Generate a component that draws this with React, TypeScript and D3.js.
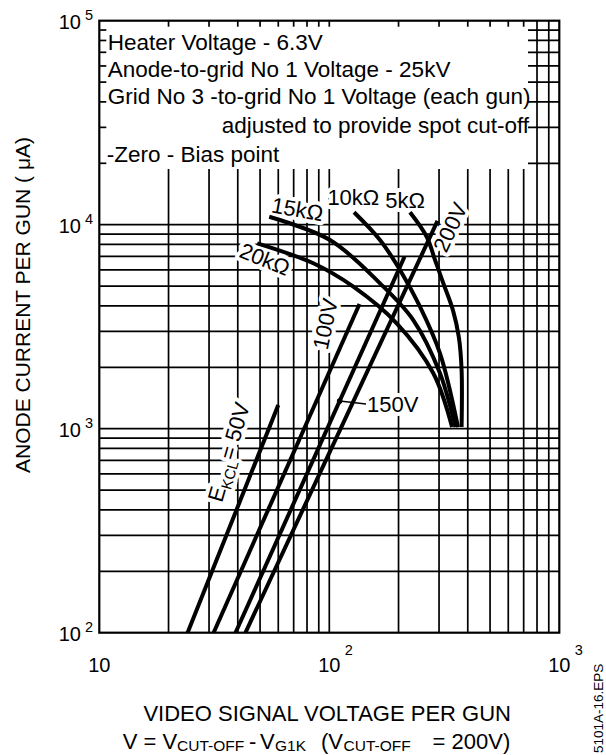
import React from 'react';
import * as d3 from 'd3';

const WIDTH = 606;
const HEIGHT = 755;

// Axis ticks
const xTickValues = [10, 100, 1000];
const xTickExponents = ['', '2', '3'];
const yTickValues = [100, 1000, 10000, 100000];
const yTickExponents = ['2', '3', '4', '5'];

// Log grid
const verticalGrid = [20, 30, 40, 50, 60, 70, 80, 90, 100, 200, 300, 400, 500, 600, 700, 800, 900];
const horizontalGrid = [200, 300, 400, 500, 600, 700, 800, 900, 1000, 2000, 3000, 4000, 5000, 6000, 7000, 8000, 9000, 10000, 20000, 30000, 40000, 50000, 60000, 70000, 80000, 90000];

// Constant E_KCL lines: [video voltage V, anode current µA]
const ekcl50: [number, number][] = [[24.2, 100], [60.0, 1306]];
const ekcl100: [number, number][] = [[31.4, 100], [135.3, 4085]];
const ekcl150: [number, number][] = [[39.1, 100], [212.3, 6968]];
const ekcl200: [number, number][] = [[43.2, 100], [295.4, 10430]];

// Load-resistance curves converging at zero-bias point
const load5k: [number, number][] = [[224.3, 11505], [265.1, 8730], [288.2, 6714], [313.2, 5160], [345, 3800], [366, 2800], [376, 1940], [376, 1019]];
const load10k: [number, number][] = [[128.1, 11505], [166.1, 8414], [203, 5998], [248, 3963], [302.9, 2342], [362.7, 1019]];
const load15k: [number, number][] = [[54.8, 10940], [100.7, 8414], [166.1, 5160], [231.8, 3410], [302.9, 1869], [353.9, 1019]];
const load20k: [number, number][] = [[48.6, 8104], [85.2, 6468], [127.2, 4967], [196.3, 3286], [283.3, 1869], [341.7, 1019]];

const boxLines = [
  'Heater Voltage - 6.3V',
  'Anode-to-grid No 1 Voltage - 25kV',
  'Grid No 3 -to-grid No 1 Voltage (each gun)',
  'adjusted to provide spot cut-off',
  '-Zero - Bias point',
];

// Curve labels anchored in data space
const curveLabels = [
  { text: '15kΩ', v: 72.7, i: 11940, rot: 10 },
  { text: '10kΩ', v: 127.2, i: 13670, rot: 0 },
  { text: '5kΩ', v: 213.4, i: 13215, rot: 0 },
  { text: '20kΩ', v: 52.5, i: 6790, rot: 22 },
  { text: '200V', v: 334.7, i: 9727, rot: -65 },
  { text: '100V', v: 95.8, i: 3262, rot: -78 },
];
const label150 = { text: '150V', v: 145.9, i: 1322, leaderI: 1367 };
const label50 = { v: 36.4, i: 769, rot: -74 };

const FONT = '"Liberation Sans", Arial, Helvetica, sans-serif';

export default function App() {
  const left = 99.3, right = 559.3, top = 20.7, bottom = 632.7;
  const x = d3.scaleLog().domain([10, 1000]).range([left, right]);
  const y = d3.scaleLog().domain([100, 100000]).range([bottom, top]);

  const boxRight = x(731);
  const boxBottom = y(18750);

  const straight = d3.line<[number, number]>().x(d => x(d[0])).y(d => y(d[1]));
  const smooth = d3.line<[number, number]>().x(d => x(d[0])).y(d => y(d[1])).curve(d3.curveCatmullRom.alpha(0.5));

  // leader dot on 150V line (log interpolation)
  const [a, b] = ekcl150;
  const t = (Math.log10(label150.leaderI) - Math.log10(a[1])) / (Math.log10(b[1]) - Math.log10(a[1]));
  const dotV = Math.pow(10, Math.log10(a[0]) + t * (Math.log10(b[0]) - Math.log10(a[0])));
  const dotX = x(dotV), dotY = y(label150.leaderI);

  const labelEls = (halo: boolean) => {
    const common = halo
      ? { fill: 'white', stroke: 'white', strokeWidth: 8, strokeLinejoin: 'round' as const }
      : { fill: 'black' };
    return (
      <g fontSize={22} fontFamily={FONT} {...common}>
        {curveLabels.map((l, k) => (
          <text key={k} transform={`translate(${x(l.v)},${y(l.i)}) rotate(${l.rot})`} textAnchor="middle" dy="0.36em">{l.text}</text>
        ))}
        <text x={x(label150.v)} y={y(label150.i)} dy="0.36em">{label150.text}</text>
        <text transform={`translate(${x(label50.v)},${y(label50.i)}) rotate(${label50.rot})`} textAnchor="middle" dy="0.36em">
          E<tspan fontSize={15} dy={5}>KCL</tspan><tspan dy={-5}>= 50V</tspan>
        </text>
      </g>
    );
  };

  return (
    <svg width={WIDTH} height={HEIGHT} style={{ position: 'absolute', left: 0, top: 0, background: 'white' }}>
      <rect x={0} y={0} width={WIDTH} height={HEIGHT} fill="white" />
      {/* grid */}
      <g stroke="#000" strokeWidth={1.7}>
        {verticalGrid.map(v => (
          <line key={'v' + v} x1={x(v)} x2={x(v)} y1={top} y2={bottom} />
        ))}
        {horizontalGrid.map(i => (
          <line key={'h' + i} x1={left} x2={right} y1={y(i)} y2={y(i)} />
        ))}
      </g>
      {/* text box knock-out */}
      <rect x={left} y={top} width={boxRight - left} height={boxBottom - top} fill="white" />
      {/* edge ticks inside box */}
      <g stroke="#000" strokeWidth={1.7}>
        {verticalGrid.filter(v => x(v) < boxRight).map(v => (
          <line key={'tv' + v} x1={x(v)} x2={x(v)} y1={top} y2={top + 6} />
        ))}
        {horizontalGrid.filter(i => y(i) < boxBottom).map(i => (
          <line key={'th' + i} x1={left} x2={left + 7} y1={y(i)} y2={y(i)} />
        ))}
      </g>
      {/* label halos */}
      {labelEls(true)}
      {/* frame */}
      <rect x={left} y={top} width={right - left} height={bottom - top} fill="none" stroke="#000" strokeWidth={2.2} />
      {/* curves */}
      <g fill="none" stroke="#000" strokeWidth={4} strokeLinecap="butt">
        {[ekcl50, ekcl100, ekcl150, ekcl200].map((d, k) => (
          <path key={'e' + k} d={straight(d) || ''} />
        ))}
        {[load5k, load10k, load15k, load20k].map((d, k) => (
          <path key={'l' + k} d={smooth(d) || ''} />
        ))}
      </g>
      {/* 150V leader */}
      <line x1={dotX} y1={dotY} x2={x(label150.v) - 1} y2={y(label150.i)} stroke="#000" strokeWidth={1.5} />
      <circle cx={dotX} cy={dotY} r={2.8} fill="#000" />
      {labelEls(false)}
      {/* box text */}
      <g fontSize={22.5} fontFamily={FONT} fill="#000" style={{ whiteSpace: 'pre' }}>
        <text x={107.7} y={50}>{boxLines[0]}</text>
        <text x={107.7} y={77.3}>{boxLines[1]}</text>
        <text x={107.7} y={104}>{boxLines[2]}</text>
        <text x={529} y={133.3} textAnchor="end">{boxLines[3]}</text>
        <text x={106.7} y={162.3}>{boxLines[4]}</text>
      </g>
      {/* tick labels */}
      <g fontFamily={FONT} fill="#000">
        {xTickValues.map((v, k) => (
          <g key={'xt' + v}>
            <text x={x(v)} y={672} fontSize={20} textAnchor="middle">10</text>
            {xTickExponents[k] && <text x={x(v) + 15.5} y={655} fontSize={14.5}>{xTickExponents[k]}</text>}
          </g>
        ))}
        {yTickValues.map((v, k) => (
          <g key={'yt' + v}>
            <text x={81} y={y(v) + 8} fontSize={20} textAnchor="end">10</text>
            <text x={85} y={y(v) - 1} fontSize={14.5}>{yTickExponents[k]}</text>
          </g>
        ))}
      </g>
      {/* axis titles */}
      <g fontFamily={FONT} fill="#000" style={{ whiteSpace: 'pre' }}>
        <text x={327.2} y={721} fontSize={22} textAnchor="middle">VIDEO SIGNAL VOLTAGE PER GUN</text>
        <text fontSize={22} y={748.5}>
          <tspan x={122.7}>V = V</tspan>
          <tspan x={177} y={751.3} fontSize={15.5}>CUT-OFF</tspan>
          <tspan x={249} y={748.5}>-</tspan>
          <tspan x={260} y={748.5}>V</tspan>
          <tspan x={275} y={751.3} fontSize={15.5}>G1K</tspan>
          <tspan x={321} y={748.5}>(V</tspan>
          <tspan x={343.5} y={751.3} fontSize={15.5}>CUT-OFF</tspan>
          <tspan x={432.6} y={748.5}>= 200V)</tspan>
        </text>
        <text transform="translate(30,305) rotate(-90)" fontSize={21} textAnchor="middle">ANODE CURRENT PER GUN (  μA)</text>
        <text transform="translate(603,753) rotate(-90)" fontSize={13.5}>5101A-16.EPS</text>
      </g>
    </svg>
  );
}
